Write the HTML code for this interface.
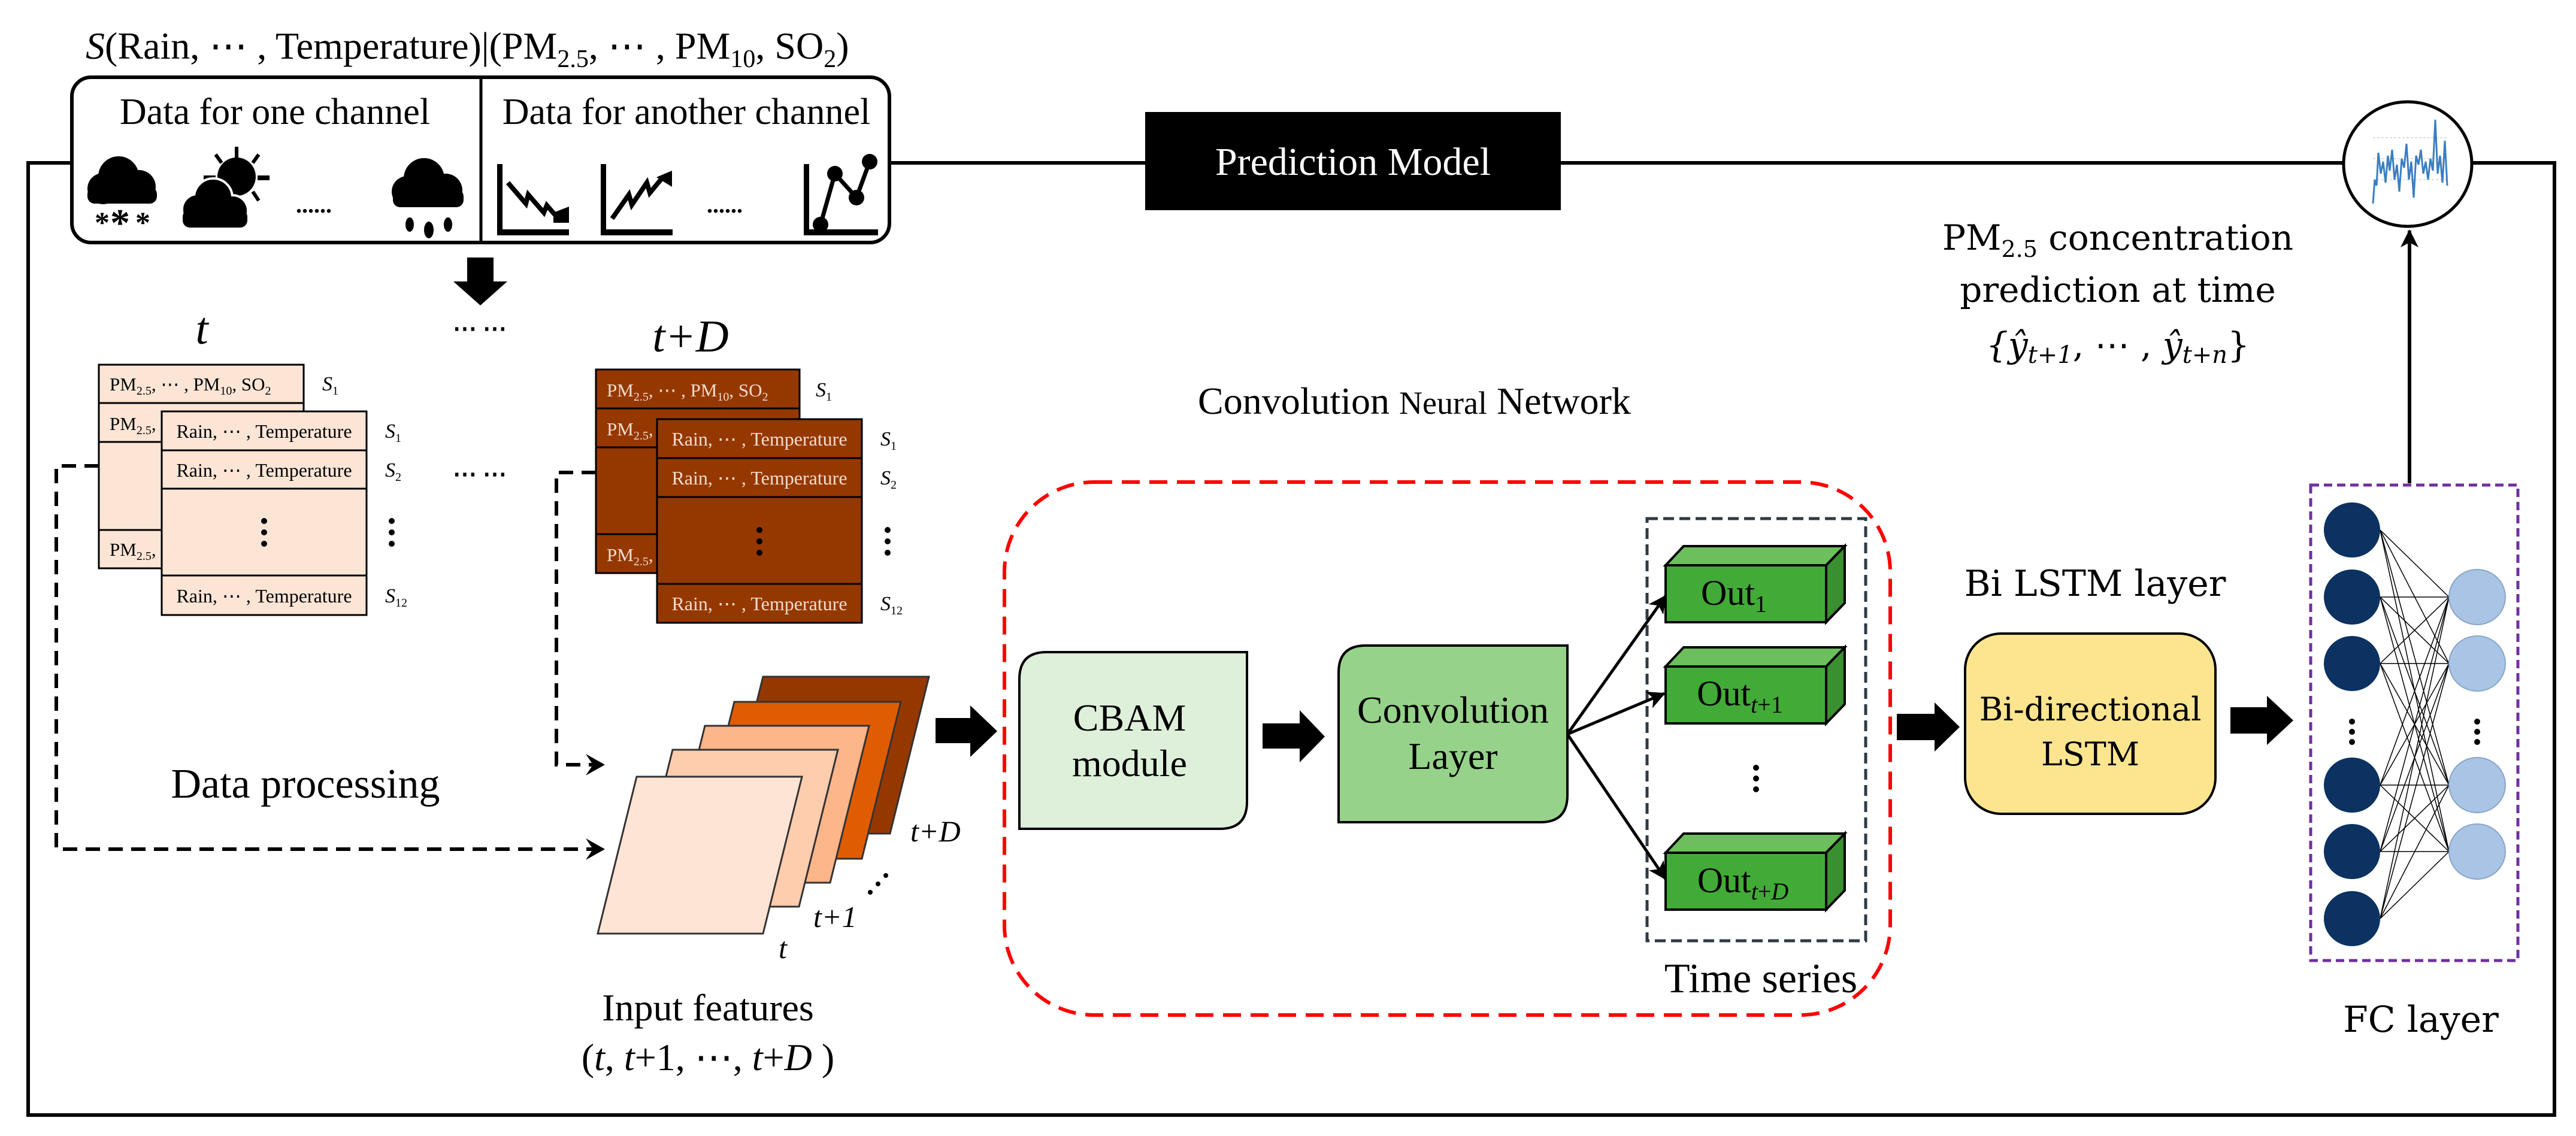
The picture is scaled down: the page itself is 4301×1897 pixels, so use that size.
<!DOCTYPE html>
<html><head><meta charset="utf-8"><style>
html,body{margin:0;padding:0;background:#fff;}
svg{display:block;}
text{font-family:"Liberation Serif",serif;}
.dj{font-family:"DejaVu Serif","Liberation Serif",serif;}
</style></head><body>
<svg width="4301" height="1897" viewBox="0 0 4301 1897" xmlns="http://www.w3.org/2000/svg">
<defs>
<marker id="ah2" markerWidth="30" markerHeight="30" refX="28" refY="15" orient="auto" markerUnits="userSpaceOnUse" viewBox="0 0 30 30"><path d="M0,0 L30,15 L0,30 L8,15 Z" fill="#000"/></marker>
</defs>
<rect width="4301" height="1897" fill="#fff"/>
<!-- outer frame -->
<rect x="47" y="272" width="4218" height="1590" fill="none" stroke="#000" stroke-width="6"/>

<!-- top formula -->
<text x="143" y="98" font-size="64"><tspan font-style="italic">S</tspan>(Rain, ⋯ , Temperature)|(PM<tspan font-size="42" dy="14">2.5</tspan><tspan dy="-14">, ⋯ , PM</tspan><tspan font-size="42" dy="14">10</tspan><tspan dy="-14">, SO</tspan><tspan font-size="42" dy="14">2</tspan><tspan dy="-14">)</tspan></text>

<!-- data channel box -->
<rect x="120" y="129" width="1365" height="276" rx="32" fill="#fff" stroke="#000" stroke-width="6"/>
<line x1="803" y1="132" x2="803" y2="402" stroke="#000" stroke-width="5"/>
<text x="459" y="207" font-size="62" text-anchor="middle">Data for one channel</text>
<text x="1146" y="207" font-size="62" text-anchor="middle">Data for another channel</text>
<!-- icons -->
<g fill="#000">
 <circle cx="172" cy="315" r="26"/><circle cx="198" cy="295" r="34"/><circle cx="232" cy="312" r="28"/>
 <rect x="146" y="312" width="116" height="28" rx="12"/>
 <text x="158" y="388" font-size="50" font-family="DejaVu Sans" font-weight="bold">*</text>
 <text x="184" y="394" font-size="66" font-family="DejaVu Sans" font-weight="bold">*</text>
 <text x="226" y="388" font-size="50" font-family="DejaVu Sans" font-weight="bold">*</text>
 <circle cx="395" cy="295" r="32"/>
 <rect x="392" y="245" width="6" height="22"/>
 <rect x="340" y="293" width="20" height="8"/><rect x="430" y="293" width="20" height="8"/>
 <line x1="360" y1="258" x2="370" y2="272" stroke="#000" stroke-width="6"/>
 <line x1="432" y1="258" x2="422" y2="272" stroke="#000" stroke-width="6"/>
 <line x1="432" y1="335" x2="422" y2="320" stroke="#000" stroke-width="6"/>
</g>
<g fill="#000" stroke="#fff" stroke-width="4">
 <circle cx="330" cy="350" r="26"/><circle cx="356" cy="330" r="32"/><circle cx="388" cy="352" r="26"/>
</g>
<g fill="#000">
 <circle cx="330" cy="350" r="24"/><circle cx="356" cy="330" r="30"/><circle cx="388" cy="352" r="24"/>
 <rect x="305" y="350" width="108" height="30" rx="12"/>
 <text x="494" y="355" font-size="40" font-weight="bold">......</text>
 <circle cx="680" cy="320" r="26"/><circle cx="708" cy="298" r="34"/><circle cx="744" cy="318" r="28"/>
 <rect x="656" y="316" width="118" height="30" rx="12"/>
 <ellipse cx="684" cy="375" rx="7" ry="12"/><ellipse cx="716" cy="384" rx="8" ry="14"/><ellipse cx="748" cy="375" rx="7" ry="12"/>
 <rect x="830" y="274" width="9" height="118"/><rect x="830" y="383" width="120" height="10"/>
 <rect x="1003" y="274" width="9" height="118"/><rect x="1003" y="383" width="120" height="10"/>
 <rect x="1342" y="274" width="9" height="118"/><rect x="1342" y="383" width="124" height="10"/>
 <text x="1180" y="355" font-size="40" font-weight="bold">......</text>
</g>
<polyline points="848,305 878,340 882,325 908,355 913,343 933,366" fill="none" stroke="#000" stroke-width="8"/>
<polygon points="924,355 950,345 950,372 924,372" fill="#000"/>
<polyline points="1022,365 1050,325 1055,342 1080,305 1085,322 1105,298" fill="none" stroke="#000" stroke-width="8"/>
<polygon points="1096,296 1122,285 1122,312" fill="#000"/>
<polyline points="1370,375 1394,290 1430,330 1452,270" fill="none" stroke="#000" stroke-width="7"/>
<g fill="#000"><circle cx="1370" cy="375" r="13"/><circle cx="1394" cy="290" r="13"/><circle cx="1430" cy="330" r="13"/><circle cx="1452" cy="270" r="13"/></g>

<polygon points="780,430 824,430 824,470 847,470 802,510 757,470 780,470" fill="#000"/>

<text x="337" y="574" font-size="76" font-style="italic" text-anchor="middle">t</text>
<text x="801" y="562" font-size="40" text-anchor="middle" font-weight="bold">⋯ ⋯</text>
<text x="1153" y="587" font-size="76" font-style="italic" text-anchor="middle">t+D</text>
<text x="801" y="805" font-size="40" text-anchor="middle" font-weight="bold">⋯ ⋯</text>

<!-- left tables (t) -->
<g stroke="#000" stroke-width="3" fill="#fde5d6">
 <rect x="165" y="609" width="342" height="340"/>
 <line x1="165" y1="673" x2="507" y2="673"/><line x1="165" y1="738" x2="507" y2="738"/><line x1="165" y1="885" x2="507" y2="885"/>
</g>
<text x="183" y="652" font-size="31">PM<tspan font-size="20" dy="7">2.5</tspan><tspan dy="-7">, ⋯ , PM</tspan><tspan font-size="20" dy="7">10</tspan><tspan dy="-7">, SO</tspan><tspan font-size="20" dy="7">2</tspan></text>
<text x="183" y="718" font-size="31">PM<tspan font-size="20" dy="7">2.5</tspan><tspan dy="-7">,</tspan></text>
<text x="183" y="928" font-size="31">PM<tspan font-size="20" dy="7">2.5</tspan><tspan dy="-7">,</tspan></text>
<text x="538" y="652" font-size="34" font-style="italic">S<tspan font-size="20" dy="7" font-style="normal">1</tspan></text>
<g stroke="#000" stroke-width="3" fill="#fde5d6">
 <rect x="270" y="687" width="342" height="340"/>
 <line x1="270" y1="752" x2="612" y2="752"/><line x1="270" y1="816" x2="612" y2="816"/><line x1="270" y1="961" x2="612" y2="961"/>
</g>
<g font-size="32" text-anchor="middle">
 <text x="441" y="731">Rain, ⋯ , Temperature</text>
 <text x="441" y="796">Rain, ⋯ , Temperature</text>
 <text x="441" y="1006">Rain, ⋯ , Temperature</text>
</g>
<g fill="#000"><circle cx="441" cy="870" r="5"/><circle cx="441" cy="889" r="5"/><circle cx="441" cy="908" r="5"/>
<circle cx="654" cy="870" r="5"/><circle cx="654" cy="889" r="5"/><circle cx="654" cy="908" r="5"/></g>
<g font-size="34" font-style="italic">
 <text x="643" y="731">S<tspan font-size="20" dy="7" font-style="normal">1</tspan></text>
 <text x="643" y="796">S<tspan font-size="20" dy="7" font-style="normal">2</tspan></text>
 <text x="643" y="1006">S<tspan font-size="20" dy="7" font-style="normal">12</tspan></text>
</g>

<!-- right tables (t+D) -->
<g stroke="#000" stroke-width="3" fill="#953800">
 <rect x="995" y="617" width="340" height="340"/>
 <line x1="995" y1="682" x2="1335" y2="682"/><line x1="995" y1="747" x2="1335" y2="747"/><line x1="995" y1="892" x2="1335" y2="892"/>
</g>
<g fill="#f3dccd">
<text x="1013" y="662" font-size="31">PM<tspan font-size="20" dy="7">2.5</tspan><tspan dy="-7">, ⋯ , PM</tspan><tspan font-size="20" dy="7">10</tspan><tspan dy="-7">, SO</tspan><tspan font-size="20" dy="7">2</tspan></text>
<text x="1013" y="727" font-size="31">PM<tspan font-size="20" dy="7">2.5</tspan><tspan dy="-7">,</tspan></text>
<text x="1013" y="937" font-size="31">PM<tspan font-size="20" dy="7">2.5</tspan><tspan dy="-7">,</tspan></text>
</g>
<text x="1362" y="662" font-size="34" font-style="italic">S<tspan font-size="20" dy="7" font-style="normal">1</tspan></text>
<g stroke="#000" stroke-width="3" fill="#953800">
 <rect x="1097" y="700" width="342" height="340"/>
 <line x1="1097" y1="765" x2="1439" y2="765"/><line x1="1097" y1="830" x2="1439" y2="830"/><line x1="1097" y1="975" x2="1439" y2="975"/>
</g>
<g font-size="32" text-anchor="middle" fill="#f3dccd">
 <text x="1268" y="744">Rain, ⋯ , Temperature</text>
 <text x="1268" y="809">Rain, ⋯ , Temperature</text>
 <text x="1268" y="1019">Rain, ⋯ , Temperature</text>
</g>
<g fill="#000"><circle cx="1268" cy="885" r="5"/><circle cx="1268" cy="904" r="5"/><circle cx="1268" cy="923" r="5"/>
<circle cx="1482" cy="885" r="5"/><circle cx="1482" cy="904" r="5"/><circle cx="1482" cy="923" r="5"/></g>
<g font-size="34" font-style="italic">
 <text x="1470" y="744">S<tspan font-size="20" dy="7" font-style="normal">1</tspan></text>
 <text x="1470" y="809">S<tspan font-size="20" dy="7" font-style="normal">2</tspan></text>
 <text x="1470" y="1019">S<tspan font-size="20" dy="7" font-style="normal">12</tspan></text>
</g>

<!-- dashed connectors -->
<polyline points="165,778 94,778 94,1418 990,1418" fill="none" stroke="#000" stroke-width="6" stroke-dasharray="24,14"/>
<path d="M978,1400 L1010,1418 L978,1436 L990,1418 Z" fill="#000"/>
<polyline points="995,789 929,789 929,1277 990,1277" fill="none" stroke="#000" stroke-width="6" stroke-dasharray="24,14"/>
<path d="M978,1259 L1010,1277 L978,1295 L990,1277 Z" fill="#000"/>

<text x="510" y="1332" font-size="70" text-anchor="middle">Data processing</text>

<!-- input feature stack -->
<g stroke="#333" stroke-width="3">
 <polygon points="1274,1130 1551,1130 1486,1392 1209,1392" fill="#953800"/>
 <polygon points="1226,1172 1504,1172 1439,1434 1161,1434" fill="#e05c00"/>
 <polygon points="1177,1212 1451,1212 1386,1474 1112,1474" fill="#fdb58a"/>
 <polygon points="1123,1252 1399,1252 1334,1514 1058,1514" fill="#fecdad"/>
 <polygon points="1063,1297 1339,1297 1274,1559 998,1559" fill="#fee4d5"/>
</g>
<g font-size="50" font-style="italic">
 <text x="1520" y="1405">t+D</text>
 <text x="1358" y="1548">t+1</text>
 <text x="1300" y="1600">t</text>
</g>
<g fill="#000"><circle cx="1453" cy="1490" r="4"/><circle cx="1466" cy="1476" r="4"/><circle cx="1479" cy="1462" r="4"/></g>
<text x="1182" y="1704" font-size="64" text-anchor="middle">Input features</text>
<text x="1182" y="1787" font-size="64" text-anchor="middle">(<tspan font-style="italic">t</tspan>, <tspan font-style="italic">t</tspan>+1, ⋯, <tspan font-style="italic">t</tspan>+<tspan font-style="italic">D</tspan> )</text>

<!-- big arrows -->
<polygon points="1562,1199 1620,1199 1620,1178 1665,1221 1620,1264 1620,1241 1562,1241" fill="#000"/>
<polygon points="2108,1208 2170,1208 2170,1186 2212,1230 2170,1273 2170,1250 2108,1250" fill="#000"/>
<polygon points="3167,1192 3230,1192 3230,1173 3272,1214 3230,1255 3230,1236 3167,1236" fill="#000"/>
<polygon points="3724,1181 3785,1181 3785,1162 3829,1203 3785,1244 3785,1225 3724,1225" fill="#000"/>

<text x="2000" y="691" font-size="64">Convolution <tspan font-size="54">Neural</tspan> Network</text>
<rect x="1677" y="805" width="1479" height="890" rx="150" fill="none" stroke="#ff0000" stroke-width="6" stroke-dasharray="30,16"/>
<path d="M1747,1089 L2082,1089 L2082,1339 Q2082,1384 2037,1384 L1702,1384 L1702,1134 Q1702,1089 1747,1089 Z" fill="#dff0da" stroke="#000" stroke-width="4"/>
<text x="1886" y="1220" font-size="64" text-anchor="middle">CBAM</text>
<text x="1886" y="1296" font-size="64" text-anchor="middle">module</text>
<path d="M2280,1078 L2617,1078 L2617,1328 Q2617,1373 2572,1373 L2235,1373 L2235,1123 Q2235,1078 2280,1078 Z" fill="#97d28a" stroke="#000" stroke-width="4"/>
<text x="2426" y="1207" font-size="64" text-anchor="middle">Convolution</text>
<text x="2426" y="1284" font-size="64" text-anchor="middle">Layer</text>
<rect x="2750" y="866" width="365" height="705" fill="none" stroke="#2f3a45" stroke-width="5" stroke-dasharray="18,9"/>
<g stroke="#000" stroke-width="4">
 <polygon points="2781,944 2811,912 3080,912 3049,944" fill="#6dbf5e"/>
 <polygon points="3049,944 3080,912 3080,1007 3049,1039" fill="#3a8f30"/>
 <rect x="2781" y="944" width="268" height="95" fill="#42ab37"/>
 <polygon points="2781,1113 2811,1081 3080,1081 3049,1113" fill="#6dbf5e"/>
 <polygon points="3049,1113 3080,1081 3080,1176 3049,1208" fill="#3a8f30"/>
 <rect x="2781" y="1113" width="268" height="95" fill="#42ab37"/>
 <polygon points="2781,1424 2811,1392 3080,1392 3049,1424" fill="#6dbf5e"/>
 <polygon points="3049,1424 3080,1392 3080,1487 3049,1519" fill="#3a8f30"/>
 <rect x="2781" y="1424" width="268" height="95" fill="#42ab37"/>
</g>
<text x="2895" y="1010" font-size="60" text-anchor="middle">Out<tspan font-size="40" dy="12">1</tspan></text>
<text x="2905" y="1178" font-size="60" text-anchor="middle">Out<tspan font-size="40" dy="12" font-style="italic">t</tspan><tspan font-size="40">+1</tspan></text>
<text x="2910" y="1490" font-size="60" text-anchor="middle">Out<tspan font-size="40" dy="12" font-style="italic">t</tspan><tspan font-size="40">+</tspan><tspan font-size="40" font-style="italic">D</tspan></text>
<g fill="#000"><circle cx="2932" cy="1282" r="5"/><circle cx="2932" cy="1300" r="5"/><circle cx="2932" cy="1318" r="5"/></g>
<g stroke="#000" stroke-width="5" fill="none">
 <line x1="2617" y1="1226" x2="2781" y2="995" marker-end="url(#ah2)"/>
 <line x1="2617" y1="1226" x2="2779" y2="1158" marker-end="url(#ah2)"/>
 <line x1="2617" y1="1226" x2="2781" y2="1468" marker-end="url(#ah2)"/>
</g>
<text x="2940" y="1657" font-size="70" text-anchor="middle">Time series</text>

<rect x="1912" y="187" width="694" height="164" fill="#000"/>
<text x="2259" y="292" font-size="66" fill="#fff" text-anchor="middle">Prediction Model</text>

<ellipse cx="4020" cy="274" rx="107" ry="104" fill="#fff" stroke="#000" stroke-width="5"/>
<g stroke="#bbb" stroke-width="1" stroke-dasharray="4,3"><line x1="3962" y1="230" x2="4085" y2="230"/><line x1="3962" y1="265" x2="4085" y2="265"/><line x1="3962" y1="300" x2="4085" y2="300"/></g>
<polyline points="3962,340 3965,300 3968,310 3971,255 3975,290 3979,270 3983,305 3987,260 3990,285 3994,250 3998,300 4002,275 4006,320 4010,265 4014,280 4018,240 4022,300 4026,270 4030,330 4034,260 4038,275 4042,250 4046,290 4050,270 4054,300 4058,265 4062,285 4066,200 4070,290 4074,260 4078,305 4082,235 4086,310" fill="none" stroke="#3a7fc1" stroke-width="3"/>
<line x1="4023" y1="807" x2="4023" y2="385" stroke="#000" stroke-width="6" marker-end="url(#ah2)"/>

<g font-size="58" text-anchor="middle">
 <text x="3536" y="417" class="dj">PM<tspan font-size="38" dy="12">2.5</tspan><tspan dy="-12"> concentration</tspan></text>
 <text x="3536" y="504" class="dj">prediction at time</text>
 <text x="3536" y="596" class="dj" font-style="italic">{ŷ<tspan font-size="40" dy="10">t+1</tspan><tspan dy="-10" font-style="normal">, ⋯ , </tspan>ŷ<tspan font-size="40" dy="10">t+n</tspan><tspan dy="-10" font-style="normal">}</tspan></text>
 <text x="3498" y="995" class="dj" font-size="60">Bi LSTM layer</text>
</g>
<rect x="3281" y="1058" width="418" height="301" rx="60" fill="#fde58f" stroke="#000" stroke-width="4"/>
<text x="3490" y="1203" class="dj" font-size="54" text-anchor="middle">Bi-directional</text>
<text x="3490" y="1278" class="dj" font-size="54" text-anchor="middle">LSTM</text>

<rect x="3858" y="810" width="346" height="794" fill="none" stroke="#7030a0" stroke-width="5" stroke-dasharray="14,8"/>
<g stroke="#000" stroke-width="1.5">
 <path d="M3974,885 L4089,997 M3974,885 L4089,1108 M3974,885 L4089,1311 M3974,885 L4089,1422
 M3974,997 L4089,997 M3974,997 L4089,1108 M3974,997 L4089,1311 M3974,997 L4089,1422
 M3974,1108 L4089,997 M3974,1108 L4089,1108 M3974,1108 L4089,1311 M3974,1108 L4089,1422
 M3974,1311 L4089,997 M3974,1311 L4089,1108 M3974,1311 L4089,1311 M3974,1311 L4089,1422
 M3974,1422 L4089,997 M3974,1422 L4089,1108 M3974,1422 L4089,1311 M3974,1422 L4089,1422
 M3974,1534 L4089,997 M3974,1534 L4089,1108 M3974,1534 L4089,1311 M3974,1534 L4089,1422"/>
</g>
<g fill="#0b3261">
 <ellipse cx="3927" cy="885" rx="47" ry="46"/><ellipse cx="3927" cy="997" rx="47" ry="46"/><ellipse cx="3927" cy="1108" rx="47" ry="46"/>
 <ellipse cx="3927" cy="1311" rx="47" ry="46"/><ellipse cx="3927" cy="1422" rx="47" ry="46"/><ellipse cx="3927" cy="1534" rx="47" ry="46"/>
</g>
<g fill="#a9c4e4" stroke="#8aa6c8" stroke-width="2">
 <ellipse cx="4136" cy="997" rx="47" ry="46"/><ellipse cx="4136" cy="1108" rx="47" ry="46"/>
 <ellipse cx="4136" cy="1311" rx="47" ry="46"/><ellipse cx="4136" cy="1422" rx="47" ry="46"/>
</g>
<g fill="#000"><circle cx="3927" cy="1205" r="5"/><circle cx="3927" cy="1222" r="5"/><circle cx="3927" cy="1239" r="5"/>
<circle cx="4136" cy="1205" r="5"/><circle cx="4136" cy="1222" r="5"/><circle cx="4136" cy="1239" r="5"/></g>
<text x="4042" y="1723" class="dj" font-size="60" text-anchor="middle">FC layer</text>
</svg>
</body></html>
